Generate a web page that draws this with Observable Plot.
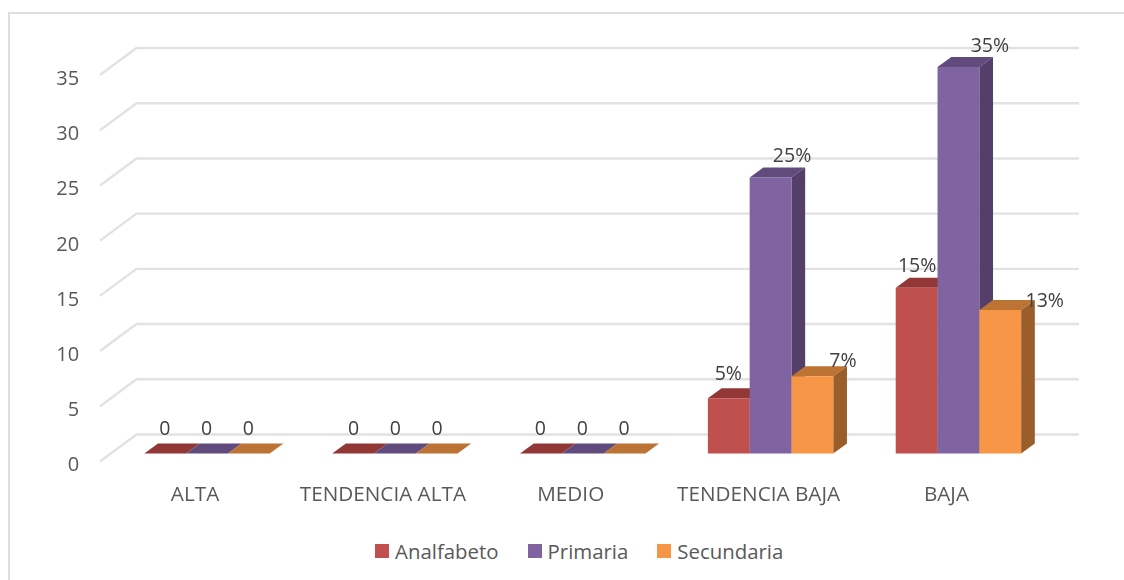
<!DOCTYPE html>
<html>
<head>
<meta charset="utf-8">
<script src="https://cdn.jsdelivr.net/npm/d3@7"></script>
<script src="https://cdn.jsdelivr.net/npm/@observablehq/plot@0.6"></script>
<style>
  html, body { margin: 0; padding: 0; background: #fff; overflow: hidden; }
  #stage { position: relative; width: 1124px; height: 580px; overflow: hidden; font-family: "Open Sans", sans-serif; }
  #border { position: absolute; left: 8px; top: 12px; width: 1200px; height: 700px; border: 2px solid #dedede; box-sizing: border-box; }
  #chart { position: absolute; left: 0; top: 0; }
  #legend { position: absolute; left: 375px; top: 534px; width: 700px; }
  #legend span { margin-right: 29px !important; }
  #legend svg { margin-right: 6px !important; }
  #stage #chart svg { filter: blur(0.35px); }
</style>
</head>
<body>
<div id="stage"><div id="border"></div><div id="chart"></div><div id="legend"></div></div>
<script>
const categories = ["ALTA", "TENDENCIA ALTA", "MEDIO", "TENDENCIA BAJA", "BAJA"];
const seriesNames = ["Analfabeto", "Primaria", "Secundaria"];
const analfabeto = [0, 0, 0, 5, 15];
const primaria = [0, 0, 0, 25, 35];
const secundaria = [0, 0, 0, 7, 13];
const yTicks = [0, 5, 10, 15, 20, 25, 30, 35];

const frontColors = ["#C0504D", "#8064A2", "#F79646"];
const topColors = ["#933736", "#614A7C", "#BC7333"];
const sideColors = ["#86383A", "#533F6A", "#9A5E2B"];

// hand-placed data label nudges as in the reference, keyed by series then category
const labelNudges = [
  [[-1,-25],[0,-25],[-1,-25],[-1,-25],[0,-23]],
  [[-1,-25],[0,-25],[-1,-25],[21,-22],[31,-22]],
  [[-1,-25],[0,-25],[-1,-25],[30,-16],[44,-10]]
];

const seriesValues = [analfabeto, primaria, secundaria];
const rows = seriesNames.flatMap((s, si) =>
  categories.map((c, ci) => ({category: c, series: s, si, value: seriesValues[si][ci],
    nudge: labelNudges[si][ci]})));

const BAR_W = 41.8, DEPTH_X = 13.7, DEPTH_Y = 10;
const NS = "http://www.w3.org/2000/svg";

function bars3d(index, scales, values, dimensions, context) {
  const g = context.document.createElementNS(NS, "g");
  const band = scales.scales ? scales.scales.x.bandwidth : scales.x.bandwidth();
  const poly = (pts, fill) => {
    const p = context.document.createElementNS(NS, "polygon");
    p.setAttribute("points", pts.map(d => d.join(",")).join(" "));
    p.setAttribute("fill", fill);
    g.appendChild(p);
  };
  for (const i of index) {
    const d = rows[i];
    const x0 = scales.x(d.category) + band / 2 + (d.si - 1.5) * BAR_W, x1 = x0 + BAR_W;
    const y0 = scales.y(0), y1 = scales.y(d.value);
    poly([[x0,y1],[x0+DEPTH_X,y1-DEPTH_Y],[x1+DEPTH_X,y1-DEPTH_Y],[x1,y1]], topColors[d.si]);
    poly([[x1,y1],[x1+DEPTH_X,y1-DEPTH_Y],[x1+DEPTH_X,y0-DEPTH_Y],[x1,y0]], sideColors[d.si]);
    poly([[x0,y1],[x1,y1],[x1,y0],[x0,y0]], frontColors[d.si]);
  }
  return g;
}

function grid3d(index, scales, values, dimensions, context) {
  const g = context.document.createElementNS(NS, "g");
  for (const i of index) {
    const y = scales.y(yTicks[i]);
    const p = context.document.createElementNS(NS, "polyline");
    p.setAttribute("points", `100,${y + 8} 136.5,${y - 19} 1079,${y - 19}`);
    p.setAttribute("fill", "none");
    p.setAttribute("stroke", "#e2e2e2");
    p.setAttribute("stroke-width", "2.4");
    g.appendChild(p);
  }
  return g;
}

const labelMarks = rows.map(d => Plot.text([d], {
  x: "category", y: "value",
  text: r => r.value === 0 ? "0" : r.value + "%",
  dx: (d.si - 1) * BAR_W + d.nudge[0], dy: d.nudge[1],
  fontSize: 19.5, fill: "#404040"
}));

const chart = Plot.plot({
  width: 1124, height: 580,
  marginLeft: 113.1, marginRight: 71.65, marginTop: 67, marginBottom: 126.5,
  style: {background: "transparent", fontFamily: '"Open Sans", sans-serif'},
  x: {domain: categories, padding: 0, round: false, axis: null},
  y: {domain: [0, 35], axis: null},
  color: {domain: seriesNames, range: frontColors},
  marks: [
    Plot.ruleY(yTicks, {y: d => d, render: grid3d}),
    Plot.barY(rows, {x: "category", y: "value", fill: "series", render: bars3d}),
    ...labelMarks,
    Plot.axisY({anchor: "left", ticks: yTicks, tickSize: 0, tickPadding: 34.5, dy: 11,
      fontSize: 20, fill: "#595959", label: null, tickFormat: d => String(d)}),
    Plot.axisX({anchor: "bottom", tickSize: 0, tickPadding: 32, dx: -12.5,
      fontSize: 20.7, fill: "#595959", label: null})
  ]
});
document.getElementById("chart").appendChild(chart);

const legend = Plot.legend({
  color: {type: "ordinal", domain: seriesNames, range: frontColors},
  swatchSize: 14,
  style: {fontFamily: '"Open Sans", sans-serif', fontSize: "20.4px", color: "#595959"}
});
document.getElementById("legend").appendChild(legend);
</script>
</body>
</html>
